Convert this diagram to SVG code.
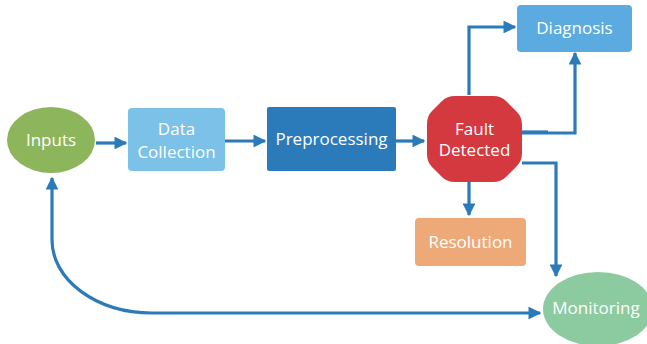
<svg xmlns="http://www.w3.org/2000/svg" width="647" height="344" viewBox="0 0 647 344">
  <defs>
    <marker id="arrow" viewBox="0 0 10 10" refX="9" refY="5" markerWidth="4" markerHeight="4" orient="auto-start-reverse" markerUnits="strokeWidth">
      <path d="M0,0 L10,5 L0,10 z" fill="#2b7bba"/>
    </marker>
    <style>
      .lbl { font-family: "Open Sans", "Liberation Sans", sans-serif; font-size: 17px; fill: #ffffff; text-anchor: middle; }
      .edge { fill: none; stroke: #2b7bba; stroke-width: 3.2; marker-end: url(#arrow); }
      .plain { fill: none; stroke: #2b7bba; stroke-width: 3.2; }
    </style>
  </defs>
  <rect width="647" height="344" fill="#ffffff"/>

  <g id="connectors">
    <path class="edge" d="M96,143 L126,143"/>
    <path class="edge" d="M225,141 L265,141"/>
    <path class="edge" d="M396,141 L424,141"/>
    <path class="edge" d="M469,95 L469,27 L515,27"/>
    <path class="edge" d="M522,133 L575,133 L575,53"/>
    <path class="plain" d="M522,132 L548,132" stroke-width="5"/>
    <path class="edge" d="M522,163 L556,163 L556,276"/>
    <path class="edge" d="M469,182 L469,215"/>
    <path class="edge" d="M52,178 L52,240 A100,73 0 0 0 152,313 L540,313" marker-start="url(#arrow)"/>
  </g>

  <g id="inputs">
    <ellipse cx="51" cy="140" rx="44" ry="33" fill="#8db55b"/>
    <text class="lbl" x="51" y="146">Inputs</text>
  </g>

  <g id="data-collection">
    <rect x="128" y="108" width="97" height="63" rx="4" fill="#7bc1e8"/>
    <text class="lbl" x="176.5" y="135">Data</text>
    <text class="lbl" x="176.5" y="158">Collection</text>
  </g>

  <g id="preprocessing">
    <rect x="267" y="107" width="129" height="64" rx="2" fill="#2b7bba"/>
    <text class="lbl" x="331.5" y="145">Preprocessing</text>
  </g>

  <g id="fault-detected">
    <path d="M455,96 L493,96 Q501,96 506,101 L517,112 Q522,117 522,125 L522,153 Q522,161 517,166 L506,177 Q501,182 493,182 L455,182 Q447,182 442,177 L432,167 Q427,162 427,154 L427,124 Q427,116 432,111 L442,101 Q447,96 455,96 Z" fill="#d4393f"/>
    <text class="lbl" x="474.5" y="135">Fault</text>
    <text class="lbl" x="474.5" y="156">Detected</text>
  </g>

  <g id="diagnosis">
    <rect x="517" y="5" width="115" height="47" rx="4" fill="#5babe0"/>
    <text class="lbl" x="574.5" y="34">Diagnosis</text>
  </g>

  <g id="resolution">
    <rect x="415" y="218" width="111" height="48" rx="4" fill="#eea978"/>
    <text class="lbl" x="470.5" y="248">Resolution</text>
  </g>

  <g id="monitoring">
    <ellipse cx="598" cy="309" rx="55" ry="37" fill="#8ccba0"/>
    <text class="lbl" x="596" y="314">Monitoring</text>
  </g>
</svg>
